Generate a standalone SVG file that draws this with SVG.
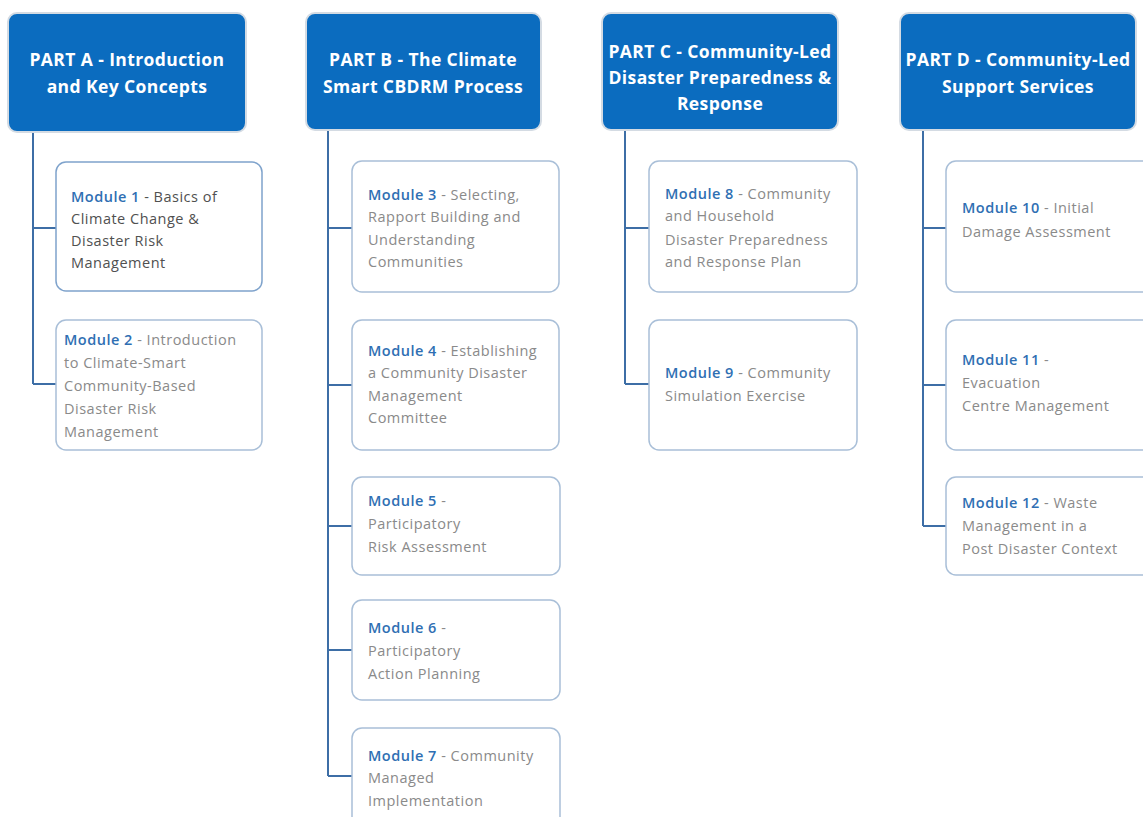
<svg xmlns="http://www.w3.org/2000/svg" width="1143" height="817" viewBox="0 0 1143 817">
  <style>
    .hdr { fill: #0b6cbf; stroke: #d4dbe3; stroke-width: 2; }
    .hdr-t { font-family: "Open Sans", "Liberation Sans", sans-serif; font-size: 17.5px; font-weight: bold; letter-spacing: 0.4px; fill: #ffffff; text-anchor: middle; }
    .mod { fill: #ffffff; stroke: #a9bfd8; stroke-width: 1.5; }
    .mod-strong { stroke: #7fa3cc; }
    .mod-t { font-family: "Open Sans", "Liberation Sans", sans-serif; font-size: 14.5px; letter-spacing: 0.5px; fill: #8a8a8a; }
    .mod-t-dark { fill: #505050; }
    .lbl { fill: #2f6fb3; font-weight: 600; }
    .conn { fill: none; stroke: #3d6ea6; stroke-width: 2; }
  </style>

  <rect width="1143" height="817" fill="#ffffff"/>

  <!-- connectors from each part to its modules -->
  <g id="connectors">
    <path class="conn" d="M33 132 V384 M33 228 H56 M33 384 H56"/>
    <path class="conn" d="M328 130 V776 M328 228 H352 M328 385 H352 M328 526 H352 M328 650 H352 M328 776 H352"/>
    <path class="conn" d="M625 130 V384 M625 228 H649 M625 384 H649"/>
    <path class="conn" d="M923 130 V526 M923 228 H946 M923 385 H946 M923 526 H946"/>
  </g>

  <!-- Part headers -->
  <g id="part-a">
    <rect class="hdr" x="8" y="13" width="238" height="119" rx="9"/>
    <text class="hdr-t" x="127" y="66">PART A - Introduction</text>
    <text class="hdr-t" x="127" y="93">and Key Concepts</text>
  </g>
  <g id="part-b">
    <rect class="hdr" x="306" y="13" width="235" height="117" rx="9"/>
    <text class="hdr-t" x="423" y="66">PART B - The Climate</text>
    <text class="hdr-t" x="423" y="93">Smart CBDRM Process</text>
  </g>
  <g id="part-c">
    <rect class="hdr" x="602" y="13" width="236" height="117" rx="9"/>
    <text class="hdr-t" x="720" y="58">PART C - Community-Led</text>
    <text class="hdr-t" x="720" y="84">Disaster Preparedness &amp;</text>
    <text class="hdr-t" x="720" y="110">Response</text>
  </g>
  <g id="part-d">
    <rect class="hdr" x="900" y="13" width="236" height="117" rx="9"/>
    <text class="hdr-t" x="1018" y="66">PART D - Community-Led</text>
    <text class="hdr-t" x="1018" y="93">Support Services</text>
  </g>

  <!-- Part A modules -->
  <g id="module-1">
    <rect class="mod mod-strong" x="56" y="162" width="206" height="129" rx="10"/>
    <text class="mod-t mod-t-dark" x="71" y="202"><tspan class="lbl">Module 1</tspan> - Basics of</text>
    <text class="mod-t mod-t-dark" x="71" y="224">Climate Change &amp;</text>
    <text class="mod-t mod-t-dark" x="71" y="246">Disaster Risk</text>
    <text class="mod-t mod-t-dark" x="71" y="268">Management</text>
  </g>
  <g id="module-2">
    <rect class="mod" x="56" y="320" width="206" height="130" rx="10"/>
    <text class="mod-t" x="64" y="345"><tspan class="lbl">Module 2</tspan> - Introduction</text>
    <text class="mod-t" x="64" y="368">to Climate-Smart</text>
    <text class="mod-t" x="64" y="391">Community-Based</text>
    <text class="mod-t" x="64" y="414">Disaster Risk</text>
    <text class="mod-t" x="64" y="437">Management</text>
  </g>

  <!-- Part B modules -->
  <g id="module-3">
    <rect class="mod" x="352" y="161" width="207" height="131" rx="10"/>
    <text class="mod-t" x="368" y="200"><tspan class="lbl">Module 3</tspan> - Selecting,</text>
    <text class="mod-t" x="368" y="222">Rapport Building and</text>
    <text class="mod-t" x="368" y="245">Understanding</text>
    <text class="mod-t" x="368" y="267">Communities</text>
  </g>
  <g id="module-4">
    <rect class="mod" x="352" y="320" width="207" height="130" rx="10"/>
    <text class="mod-t" x="368" y="356"><tspan class="lbl">Module 4</tspan> - Establishing</text>
    <text class="mod-t" x="368" y="378">a Community Disaster</text>
    <text class="mod-t" x="368" y="401">Management</text>
    <text class="mod-t" x="368" y="423">Committee</text>
  </g>
  <g id="module-5">
    <rect class="mod" x="352" y="477" width="208" height="98" rx="10"/>
    <text class="mod-t" x="368" y="506"><tspan class="lbl">Module 5</tspan> -</text>
    <text class="mod-t" x="368" y="529">Participatory</text>
    <text class="mod-t" x="368" y="552">Risk Assessment</text>
  </g>
  <g id="module-6">
    <rect class="mod" x="352" y="600" width="208" height="100" rx="10"/>
    <text class="mod-t" x="368" y="633"><tspan class="lbl">Module 6</tspan> -</text>
    <text class="mod-t" x="368" y="656">Participatory</text>
    <text class="mod-t" x="368" y="679">Action Planning</text>
  </g>
  <g id="module-7">
    <rect class="mod" x="352" y="728" width="208" height="110" rx="10"/>
    <text class="mod-t" x="368" y="761"><tspan class="lbl">Module 7</tspan> - Community</text>
    <text class="mod-t" x="368" y="783">Managed</text>
    <text class="mod-t" x="368" y="806">Implementation</text>
  </g>

  <!-- Part C modules -->
  <g id="module-8">
    <rect class="mod" x="649" y="161" width="208" height="131" rx="10"/>
    <text class="mod-t" x="665" y="199"><tspan class="lbl">Module 8</tspan> - Community</text>
    <text class="mod-t" x="665" y="221">and Household</text>
    <text class="mod-t" x="665" y="245">Disaster Preparedness</text>
    <text class="mod-t" x="665" y="267">and Response Plan</text>
  </g>
  <g id="module-9">
    <rect class="mod" x="649" y="320" width="208" height="130" rx="10"/>
    <text class="mod-t" x="665" y="378"><tspan class="lbl">Module 9</tspan> - Community</text>
    <text class="mod-t" x="665" y="401">Simulation Exercise</text>
  </g>

  <!-- Part D modules -->
  <g id="module-10">
    <rect class="mod" x="946" y="161" width="210" height="131" rx="10"/>
    <text class="mod-t" x="962" y="213"><tspan class="lbl">Module 10</tspan> - Initial</text>
    <text class="mod-t" x="962" y="237">Damage Assessment</text>
  </g>
  <g id="module-11">
    <rect class="mod" x="946" y="320" width="210" height="130" rx="10"/>
    <text class="mod-t" x="962" y="365"><tspan class="lbl">Module 11</tspan> -</text>
    <text class="mod-t" x="962" y="388">Evacuation</text>
    <text class="mod-t" x="962" y="411">Centre Management</text>
  </g>
  <g id="module-12">
    <rect class="mod" x="946" y="477" width="210" height="98" rx="10"/>
    <text class="mod-t" x="962" y="508"><tspan class="lbl">Module 12</tspan> - Waste</text>
    <text class="mod-t" x="962" y="531">Management in a</text>
    <text class="mod-t" x="962" y="554">Post Disaster Context</text>
  </g>
</svg>
